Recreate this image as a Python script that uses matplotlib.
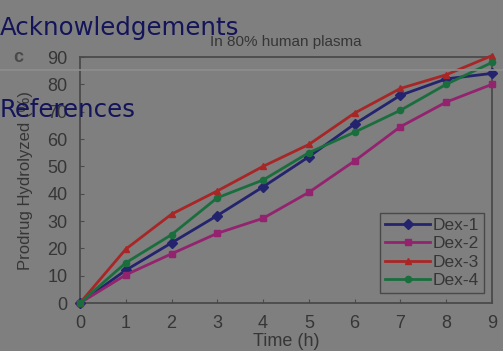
import numpy as np
import matplotlib
matplotlib.use("Agg")
from matplotlib import pyplot as plt

# data
hours = [0, 1, 2, 3, 4, 5, 6, 7, 8, 9]
dex1 = [0, 12, 22, 32, 42.5, 53.5, 65.5, 76, 82, 84]
dex2 = [0, 10.3, 18, 25.5, 31, 40.5, 52, 64.5, 73.5, 80]
dex3 = [0, 19.7, 32.5, 41, 50, 58, 69.5, 78.5, 83.5, 90.5]
dex4 = [0, 14.7, 25, 38.5, 45, 55, 62.5, 70.5, 80, 88]
names = ["Dex-1", "Dex-2", "Dex-3", "Dex-4"]

bg = "#7f7f7f"
ink = "#363636"

plt.rcParams['font.family'] = ['Liberation Sans', 'DejaVu Sans']

fig = plt.figure(figsize=(5.03, 3.51), dpi=100, facecolor=bg)
ax = fig.add_axes([80 / 503, 48 / 351, 412 / 503, 246 / 351])
ax.set_facecolor(bg)

series = [dex1, dex2, dex3, dex4]
colors = ["#23236e", "#93236f", "#a82626", "#1a6e3e"]
markers = ["D", "s", "^", "o"]
sizes = [5, 4, 4.5, 4.5]
for vals, name, c, m, ms in zip(series, names, colors, markers, sizes):
    ax.plot(hours, vals, color=c, marker=m, markersize=ms, linewidth=2,
            label=name, clip_on=False, zorder=3)

ax.set_xlim(0, 9)
ax.set_ylim(0, 90)
ax.set_xticks(range(0, 10))
ax.set_yticks(range(0, 100, 10))
for s in ax.spines.values():
    s.set_color("#4a4a4a")
    s.set_linewidth(1.3)
ax.tick_params(direction="in", length=3, color="#4a4a4a", labelcolor=ink,
               labelsize=13)
ax.tick_params(axis="x", pad=9)
ax.tick_params(axis="y", pad=9)

ax.set_title("In 80% human plasma", fontsize=11, color=ink, pad=8)
ax.set_xlabel("Time (h)", fontsize=13, color=ink, labelpad=0)
ax.set_ylabel("Prodrug Hydrolyzed (%)", fontsize=12, color=ink, labelpad=10)

leg = ax.legend(loc="lower right", bbox_to_anchor=(0.98, 0.04), fontsize=12.5,
                frameon=True, fancybox=False, handlelength=2.6,
                borderpad=0.3, labelspacing=0.18, handletextpad=0.1,
                borderaxespad=0)
leg.get_frame().set_facecolor(bg)
leg.get_frame().set_edgecolor("#3c3c3c")
leg.get_frame().set_linewidth(1.0)
for t in leg.get_texts():
    t.set_color(ink)

fig.text(18 / 503, 1 - 58 / 351, "c", fontsize=13, color="#4a4a4a",
         ha="center", va="center", fontweight="bold")

# divider line across the page
fig.add_artist(plt.Line2D([0, 1], [1 - 70 / 351, 1 - 70 / 351],
                          color="#8e8e8e", linewidth=1.2))

# overlay headings
fig.text(0, 1 - 35 / 351, "Acknowledgements", fontsize=17.6, color="#14145a",
         family="DejaVu Sans", ha="left", va="baseline")
fig.text(0, 1 - 117 / 351, "References", fontsize=17.6, color="#14145a",
         family="DejaVu Sans", ha="left", va="baseline")

fig.savefig("out.png", dpi=100, facecolor=bg)
